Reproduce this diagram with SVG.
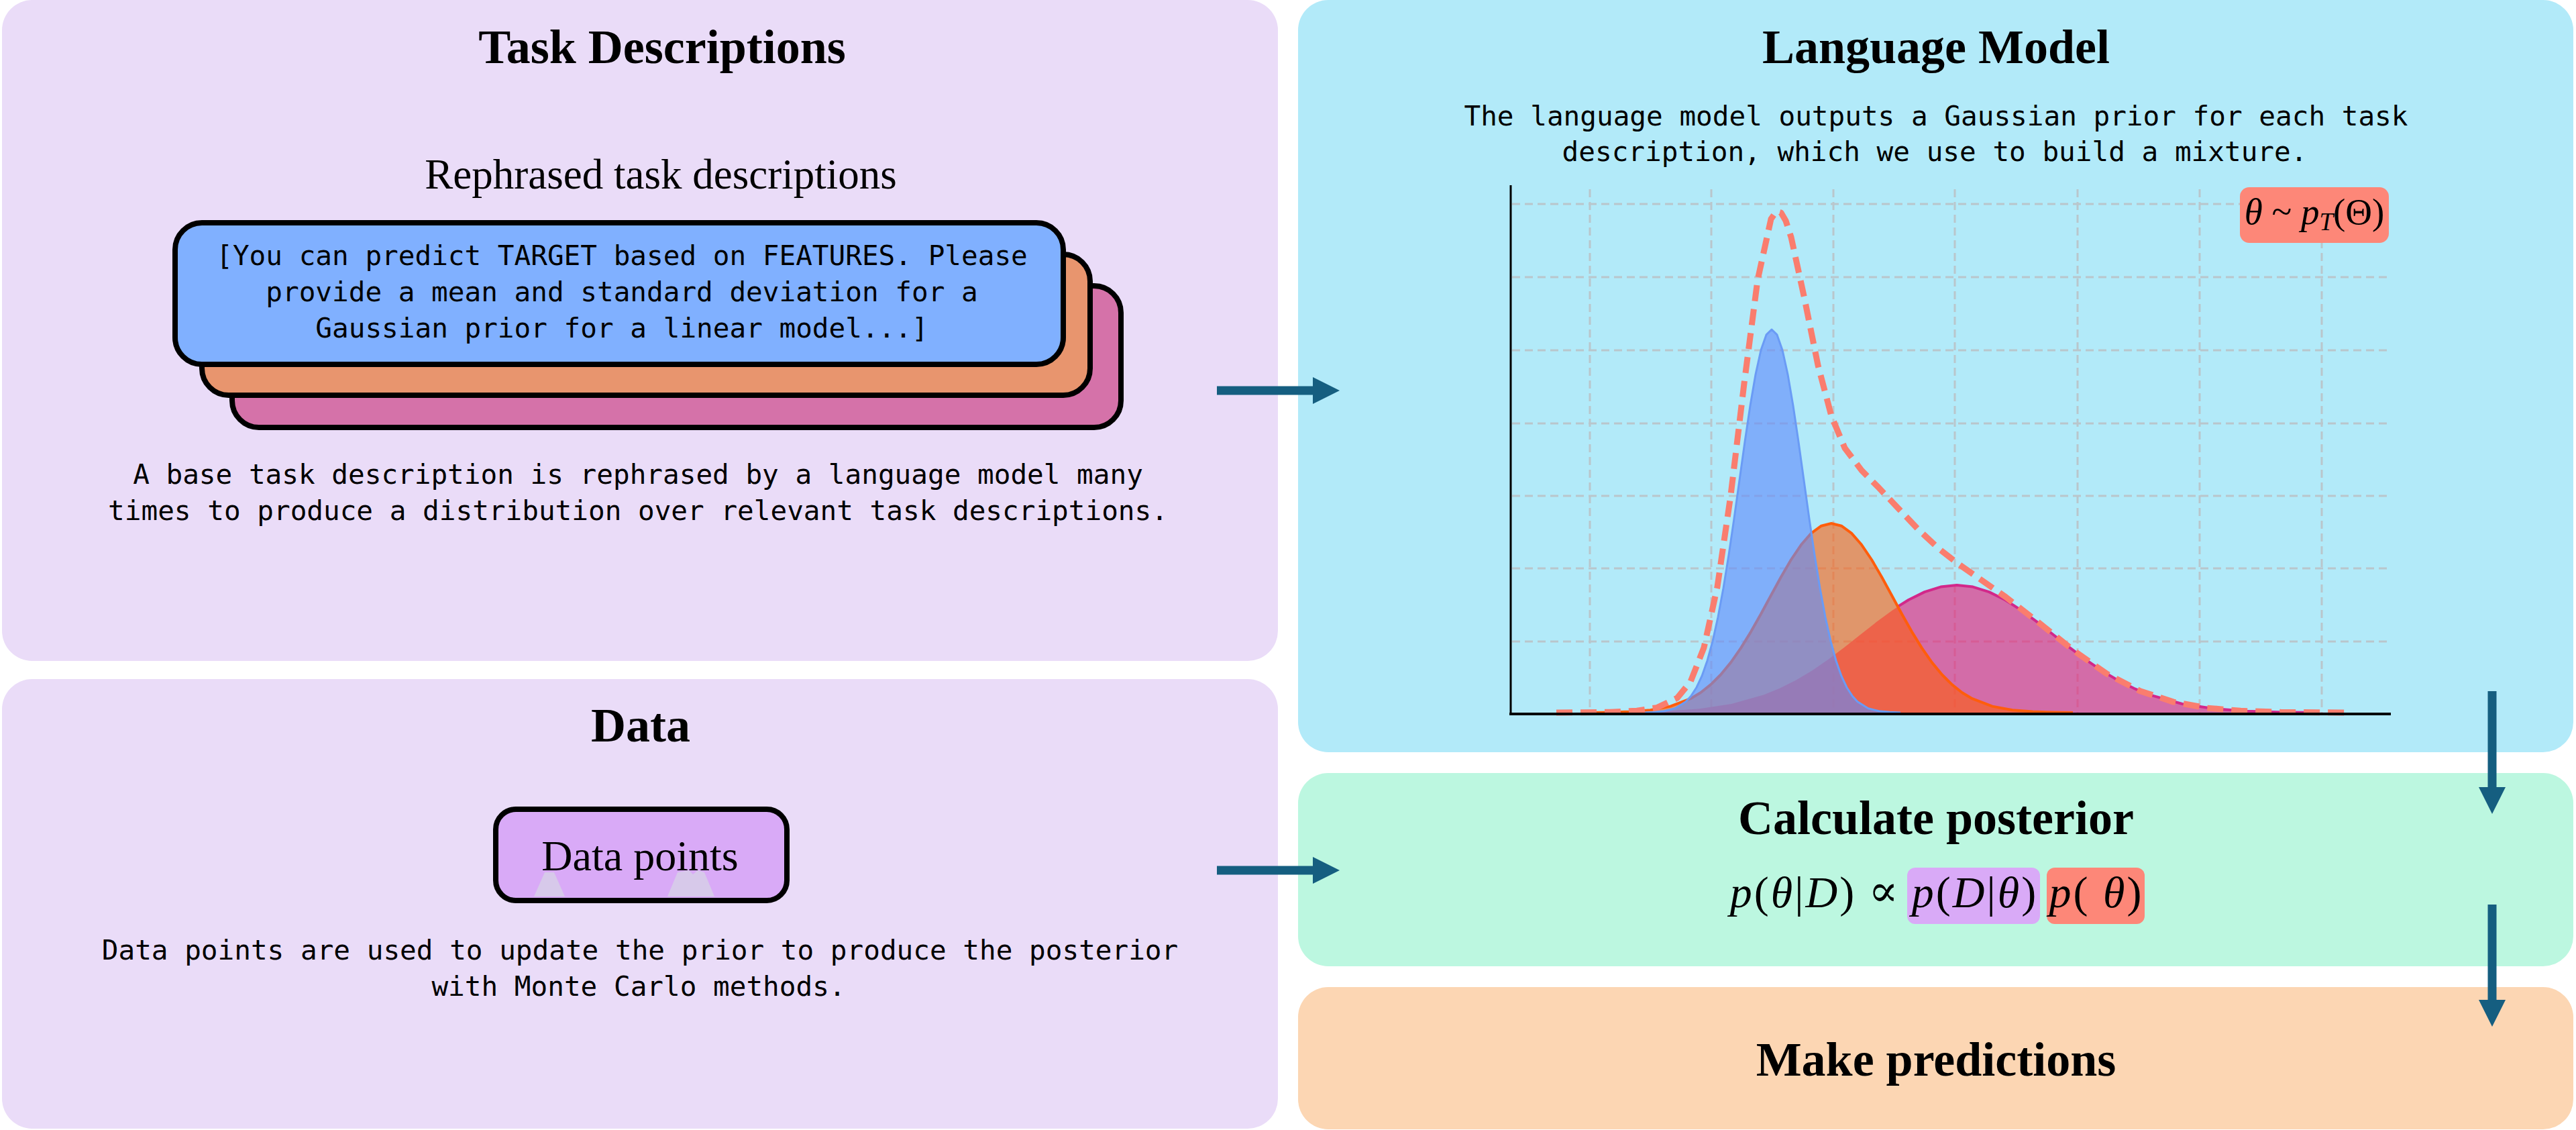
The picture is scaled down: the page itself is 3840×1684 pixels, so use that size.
<svg xmlns="http://www.w3.org/2000/svg" width="3840" height="1684" viewBox="0 0 3840 1684">
<defs>
<style>
.title{font-family:"Liberation Serif","Times New Roman",serif;font-weight:bold;font-size:72px;text-anchor:middle;fill:#000}
.mono{font-family:"DejaVu Sans Mono","Liberation Mono",monospace;font-size:41px;text-anchor:middle;fill:#000}
.serif{font-family:"Liberation Serif","Times New Roman",serif;font-size:63px;text-anchor:middle;fill:#000}
.math{font-family:"Liberation Serif","DejaVu Serif",serif;font-size:66px;text-anchor:middle;fill:#000;letter-spacing:3px}
.it{font-style:italic}
.card{stroke:#000;stroke-width:8}
.grid{stroke:#b9c6cc;stroke-width:3;stroke-dasharray:12 7;fill:none}
.conn{stroke:#155e80;stroke-width:13;fill:none}
</style>
<marker id="head" viewBox="0 0 40 40" refX="0" refY="20" markerWidth="40" markerHeight="40" markerUnits="userSpaceOnUse" orient="auto">
<path d="M0,0 L40,20 L0,40 Z" fill="#155e80"/>
</marker>
</defs>
<rect width="3840" height="1684" fill="#ffffff"/>

<g id="panel-task">
<rect x="3" y="0" width="1902" height="985" rx="45" fill="#eadcf8"/>
<text class="title" x="987" y="94">Task Descriptions</text>
<text class="serif" x="985" y="281">Rephrased task descriptions</text>
<rect class="card" x="346" y="426" width="1325" height="211" rx="40" fill="#d572a9"/>
<rect class="card" x="301" y="379" width="1324" height="210" rx="40" fill="#e8956e"/>
<rect class="card" x="261" y="332" width="1324" height="211" rx="40" fill="#80b0ff"/>
<text class="mono" x="927" y="395">[You can predict TARGET based on FEATURES. Please</text>
<text class="mono" x="927" y="449">provide a mean and standard deviation for a</text>
<text class="mono" x="927" y="503">Gaussian prior for a linear model...]</text>
<text class="mono" x="951" y="721">A base task description is rephrased by a language model many</text>
<text class="mono" x="951" y="775">times to produce a distribution over relevant task descriptions.</text>
</g>

<g id="panel-data">
<rect x="3" y="1012" width="1902" height="670" rx="45" fill="#eadcf8"/>
<text class="title" x="955" y="1105">Data</text>
<rect x="739" y="1206" width="434" height="136" rx="30" fill="#d9aaf7" stroke="#000" stroke-width="8"/>
<polygon points="796,1336 842,1336 826,1300 812,1300" fill="#d7c9ea"/>
<polygon points="995,1336 1065,1336 1050,1300 1040,1297 1033,1303 1027,1297 1010,1300" fill="#d7c9ea"/>
<text class="serif" x="954" y="1297" style="font-size:64px">Data points</text>
<text class="mono" x="954" y="1430">Data points are used to update the prior to produce the posterior</text>
<text class="mono" x="952" y="1484">with Monte Carlo methods.</text>
</g>

<g id="panel-lm">
<rect x="1935" y="0" width="1901" height="1121" rx="45" fill="#b2eaf9"/>
<text class="title" x="2886" y="94">Language Model</text>
<text class="mono" x="2886" y="187">The language model outputs a Gaussian prior for each task</text>
<text class="mono" x="2884" y="240">description, which we use to build a mixture.</text>
<g id="chart">
<g class="grid">
<line x1="2370" y1="282" x2="2370" y2="1062"/>
<line x1="2551" y1="282" x2="2551" y2="1062"/>
<line x1="2733" y1="282" x2="2733" y2="1062"/>
<line x1="2914" y1="282" x2="2914" y2="1062"/>
<line x1="3097" y1="282" x2="3097" y2="1062"/>
<line x1="3279" y1="282" x2="3279" y2="1062"/>
<line x1="3461" y1="282" x2="3461" y2="1062"/>
<line x1="2254" y1="304" x2="3564" y2="304"/>
<line x1="2254" y1="413" x2="3564" y2="413"/>
<line x1="2254" y1="522" x2="3564" y2="522"/>
<line x1="2254" y1="631" x2="3564" y2="631"/>
<line x1="2254" y1="739" x2="3564" y2="739"/>
<line x1="2254" y1="847" x2="3564" y2="847"/>
<line x1="2254" y1="956" x2="3564" y2="956"/>
</g>
<path d="M2341,1062 L2389,1061.75 L2437,1061.2 L2485,1059.8 L2533,1056.3 L2581,1049 L2629,1035.6 L2653,1025.8 L2677,1013.7 L2701,999.4 L2725,982.9 L2749,964.9 L2773,946 L2797,927.1 L2821,909.4 L2845,894 L2869,882.1 L2893,874.6 L2917,872 L2941,874.6 L2965,882.1 L2989,894 L3013,909.4 L3037,927.1 L3061,946 L3085,964.9 L3109,982.9 L3133,999.4 L3157,1013.7 L3181,1025.8 L3205,1035.6 L3253,1049 L3301,1056.3 L3349,1059.8 L3397,1061.2 L3445,1061.75 L3493,1062 Z" fill="#ea1772" fill-opacity="0.6"/>
<path d="M2828,904.6 L2845,894 L2869,882.1 L2893,874.6 L2917,872 L2941,874.6 L2965,882.1 L2989,894 L3013,909.4 L3037,927.1 L3061,946 L3085,964.9 L3109,982.9 L3133,999.4 L3157,1013.7 L3181,1025.8 L3205,1035.6 L3253,1049 L3301,1056.3 L3349,1059.8 L3397,1061.2 L3445,1061.75" fill="none" stroke="#d2288a" stroke-width="4" stroke-linejoin="round"/>
<path d="M2370,1062 L2400,1061.55 L2430,1060.6 L2460,1058.2 L2490,1052.6 L2520,1041.2 L2535,1032.2 L2550,1020.4 L2565,1005.5 L2580,987.4 L2595,965.9 L2610,941.6 L2625,915 L2640,887.2 L2655,859.7 L2670,834 L2685,811.8 L2700,794.6 L2715,783.7 L2730,780 L2745,783.7 L2760,794.6 L2775,811.8 L2790,834 L2805,859.7 L2820,887.2 L2835,915 L2850,941.6 L2865,965.9 L2880,987.4 L2895,1005.5 L2910,1020.4 L2925,1032.2 L2940,1041.2 L2970,1052.6 L3000,1058.2 L3030,1060.6 L3060,1061.55 L3090,1062" fill="#ff5d0c" fill-opacity="0.6" stroke="#ff5d0c" stroke-width="4" stroke-linejoin="round"/>
<path d="M2449,1062 L2465,1061.3 L2481,1059.8 L2497,1055.7 L2513,1045.7 L2521,1036.9 L2529,1024.5 L2537,1007.4 L2545,984.7 L2553,955.6 L2561,919.6 L2569,876.6 L2577,827.3 L2585,772.9 L2593,715.7 L2601,658.5 L2609,604.8 L2617,558.1 L2625,521.8 L2633,498.9 L2641,491 L2649,498.9 L2657,521.8 L2665,558.1 L2673,604.8 L2681,658.5 L2689,715.7 L2697,772.9 L2705,827.3 L2713,876.6 L2721,919.6 L2729,955.6 L2737,984.7 L2745,1007.4 L2753,1024.5 L2761,1036.9 L2769,1045.7 L2785,1055.7 L2801,1059.8 L2817,1061.3 L2833,1062" fill="#618afa" fill-opacity="0.62" stroke="#6a9bf5" stroke-width="3" stroke-linejoin="round"/>
<path d="M2320,1062 L2400,1061.3 L2440,1059.2 L2470,1054.6 L2500,1040.3 L2520,1016 L2540,965.1 L2560,874.6 L2580,737.9 L2600,571.4 L2620,417.4 L2640,326.4 L2648,315 L2655,317 L2662,329 L2670,353.5 L2690,445.4 L2710,544.2 L2730,619.9 L2750,667.7 L2775,700.9 L2800,726.2 L2830,757.8 L2860,789.5 L2890,817.5 L2920,840.9 L2950,861.8 L2990,889.8 L3040,928.5 L3090,968.6 L3140,1003.8 L3190,1029.7 L3240,1046.1 L3290,1055.1 L3340,1059.3 L3400,1061.3 L3495,1062" fill="none" stroke="#fa7d6e" stroke-width="9" stroke-dasharray="24 12" stroke-linejoin="round"/>
<line x1="2252" y1="276" x2="2252" y2="1066" stroke="#000" stroke-width="3"/>
<line x1="2250" y1="1064" x2="3564" y2="1064" stroke="#000" stroke-width="4"/>
<rect x="3339" y="279" width="222" height="83" rx="14" fill="#fd8778"/>
<text x="3450" y="334" style="font-family:'Liberation Serif','DejaVu Serif',serif;font-size:55px;text-anchor:middle"><tspan class="it">θ</tspan> ~ <tspan class="it">p</tspan><tspan class="it" style="font-size:37px" dy="9">T</tspan><tspan dy="-9">(Θ)</tspan></text>
</g>
</g>

<g id="panel-posterior">
<rect x="1935" y="1152" width="1901" height="288" rx="45" fill="#bcf7e0"/>
<text class="title" x="2886" y="1243">Calculate posterior</text>
<rect x="2843" y="1293" width="198" height="84" rx="12" fill="#d9aaf7"/>
<rect x="3051" y="1293" width="146" height="84" rx="12" fill="#fd8778"/>
<text class="math" x="2673" y="1352"><tspan class="it">p</tspan>(<tspan class="it">θ</tspan>|<tspan class="it">D</tspan>)</text>
<text class="math" x="2809" y="1350">∝</text>
<text class="math" x="2944" y="1352"><tspan class="it">p</tspan>(<tspan class="it">D</tspan>|<tspan class="it">θ</tspan>)</text>
<text class="math" x="3125" y="1352"><tspan class="it">p</tspan>( <tspan class="it">θ</tspan>)</text>
</g>

<g id="panel-predict">
<rect x="1935" y="1471" width="1901" height="212" rx="45" fill="#fcd6b3"/>
<text class="title" x="2886" y="1603">Make predictions</text>
</g>

<g id="connectors">
<line class="conn" x1="1814" y1="582" x2="1957" y2="582" marker-end="url(#head)"/>
<line class="conn" x1="1814" y1="1297" x2="1957" y2="1297" marker-end="url(#head)"/>
<line class="conn" x1="3715" y1="1030" x2="3715" y2="1173" marker-end="url(#head)"/>
<line class="conn" x1="3715" y1="1348" x2="3715" y2="1490" marker-end="url(#head)"/>
</g>
</svg>
